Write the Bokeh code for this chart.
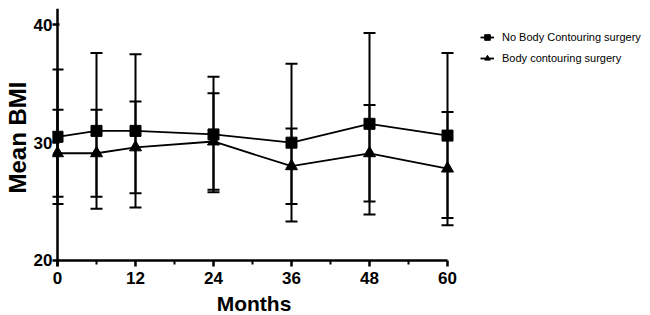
from bokeh.plotting import figure
from bokeh.models import (ColumnDataSource, Whisker, TeeHead, Span, FixedTicker,
                          Legend, LegendItem, Range1d)
from bokeh.embed import file_html
from bokeh.resources import INLINE

# ---- data ----
months = [0, 6, 12, 24, 36, 48, 60]
no_bc_mean = [30.5, 31.0, 31.0, 30.7, 30.0, 31.6, 30.6]
no_bc_sd = [5.7, 6.6, 6.5, 4.9, 6.7, 7.7, 7.0]
bc_mean = [29.1, 29.1, 29.6, 30.1, 28.0, 29.1, 27.8]
bc_sd = [3.7, 3.7, 3.9, 4.1, 3.2, 4.1, 4.8]
x_ticks = [0, 12, 24, 36, 48, 60]
x_minor_ticks = [6, 18, 30, 42, 54]
y_ticks = [20, 30, 40]
series_labels = ["No Body Contouring surgery", "Body contouring surgery"]

# ---- geometry ----
PX_X = 6.5      # px per month
PX_Y = 11.76    # px per BMI unit
LEFT = 47       # left panel width (px)
X0_PX = 52      # screen x of month 0 within figure
TOP = 8
TICK = 6        # major x tick length
MINOR = 4.0
FIG_W = 642

x_start = -(X0_PX - LEFT) / PX_X
fw = 403
x_end = x_start + fw / PX_X
y_start = y_ticks[0] - TICK / PX_Y
y_end = 40 + 16.3 / PX_Y
fh = int(round((y_end - y_start) * PX_Y))
RIGHT = FIG_W - LEFT - fw

p = figure(frame_width=fw, frame_height=fh, output_backend="svg",
           toolbar_location=None, x_range=Range1d(x_start, x_end),
           y_range=Range1d(y_start, y_end),
           min_border_left=LEFT, min_border_top=TOP, min_border_right=RIGHT,
           min_border_bottom=0)
p.outline_line_color = None
p.grid.visible = False
p.background_fill_color = "white"
p.border_fill_color = "white"

FONT = "Liberation Sans"

# y axis
ya = p.yaxis[0]
ya.ticker = FixedTicker(ticks=y_ticks)
ya.axis_line_color = None
ya.major_tick_in = X0_PX - LEFT + 2
ya.major_tick_out = 0
ya.major_tick_line_width = 2.5
ya.minor_tick_line_color = None
ya.major_label_standoff = 0
ya.major_label_text_font = FONT
ya.major_label_text_font_style = "bold"
ya.major_label_text_font_size = "17px"
ya.major_label_text_color = "black"
ya.axis_label = "Mean BMI"
ya.axis_label_text_font = FONT
ya.axis_label_text_font_style = "bold"
ya.axis_label_text_font_size = "24px"
ya.axis_label_text_color = "black"
ya.axis_label_standoff = 0

# x axis
xa = p.xaxis[0]
xa.ticker = FixedTicker(ticks=x_ticks)
xa.axis_line_color = None
xa.major_tick_in = TICK
xa.major_tick_out = 0
xa.major_tick_line_width = 2.5
xa.minor_tick_line_color = None
xa.major_label_standoff = 5
xa.major_label_text_font = FONT
xa.major_label_text_font_style = "bold"
xa.major_label_text_font_size = "17px"
xa.major_label_text_color = "black"
xa.axis_label = "Months"
xa.axis_label_text_font = FONT
xa.axis_label_text_font_style = "bold"
xa.axis_label_text_font_size = "21px"
xa.axis_label_text_color = "black"
xa.axis_label_standoff = 5

# axis lines drawn in data space so they meet at (0, 20)
p.add_layout(Span(location=0, dimension="height", line_color="black",
                  line_width=2.5))
p.segment(x0=[months[0]], y0=[y_ticks[0]], x1=[months[-1]], y1=[y_ticks[0]],
          line_color="black", line_width=2.5)
p.segment(x0=x_minor_ticks, x1=x_minor_ticks,
          y0=[y_ticks[0]] * len(x_minor_ticks),
          y1=[y_ticks[0] - MINOR / PX_Y] * len(x_minor_ticks),
          line_color="black", line_width=2)

# sources
src_a = ColumnDataSource(dict(
    x=months, y=no_bc_mean,
    upper=[m + s for m, s in zip(no_bc_mean, no_bc_sd)],
    lower=[m - s for m, s in zip(no_bc_mean, no_bc_sd)]))
src_b = ColumnDataSource(dict(
    x=months, y=bc_mean,
    upper=[m + s for m, s in zip(bc_mean, bc_sd)],
    lower=[m - s for m, s in zip(bc_mean, bc_sd)]))

for src in (src_a, src_b):
    w = Whisker(source=src, base="x", upper="upper", lower="lower",
                line_color="black", line_width=2,
                upper_head=TeeHead(size=12, line_width=2, line_color="black"),
                lower_head=TeeHead(size=12, line_width=2, line_color="black"))
    p.add_layout(w)

la = p.line("x", "y", source=src_a, line_color="black", line_width=1.8)
sa = p.scatter("x", "y", source=src_a, marker="square", size=11,
               fill_color="black", line_color="black")
lb = p.line("x", "y", source=src_b, line_color="black", line_width=1.8)
sb = p.scatter("x", "y", source=src_b, marker="triangle", size=12,
               fill_color="black", line_color="black")

legend = Legend(items=[LegendItem(label=series_labels[0], renderers=[la, sa]),
                       LegendItem(label=series_labels[1], renderers=[lb, sb])],
                location=(25, fh - 58.7), orientation="vertical",
                glyph_width=14, glyph_height=18, label_height=18,
                label_standoff=8, spacing=3, padding=0, margin=0,
                border_line_color=None, background_fill_alpha=0,
                label_text_font=FONT, label_text_font_size="11px",
                label_text_color="black")
p.add_layout(legend, "right")

open("out.html", "w").write(file_html(p, INLINE))
